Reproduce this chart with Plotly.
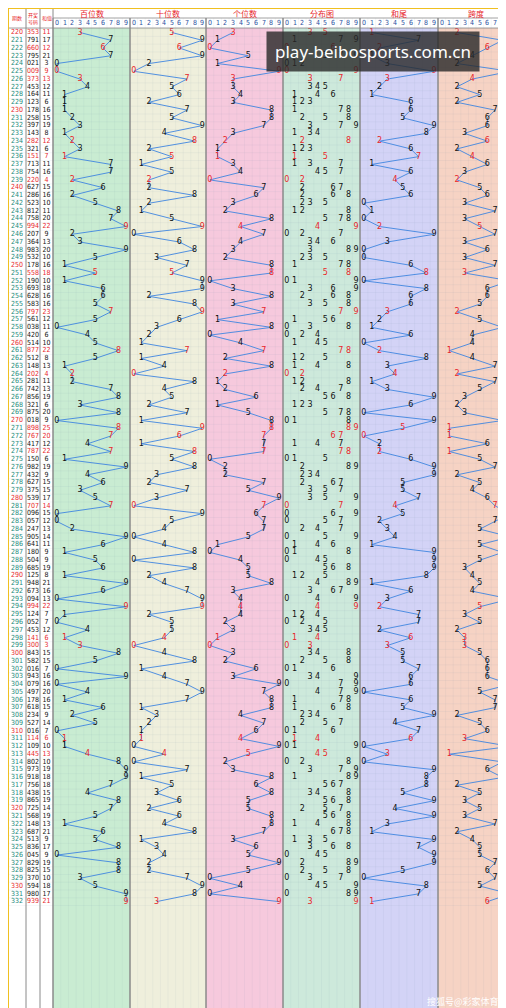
import plotly.graph_objects as go

# 期数 / 开奖号码
periods = list(range(220, 333))
draws = ["353", "791", "660", "795", "021", "009", "373", "453", "164", "123",
         "178", "258", "397", "143", "282", "321", "151", "713", "754", "220",
         "627", "286", "523", "812", "758", "994", "207", "364", "983", "532",
         "178", "558", "190", "693", "628", "583", "797", "561", "038", "420",
         "514", "877", "512", "148", "202", "281", "742", "856", "321", "875",
         "018", "898", "767", "417", "787", "150", "982", "432", "627", "375",
         "539", "707", "096", "057", "247", "905", "641", "180", "504", "685",
         "125", "948", "673", "094", "994", "124", "052", "453", "141", "300",
         "843", "582", "016", "943", "079", "497", "178", "618", "234", "527",
         "016", "114", "109", "445", "802", "973", "918", "756", "438", "865",
         "725", "568", "148", "687", "513", "836", "045", "829", "825", "370",
         "594", "980", "939"]
section_titles = ["百位数", "十位数", "个位数", "分布图", "和尾", "跨度"]
section_bg = ["#c9ecd2", "#efefdc", "#f6c9dd", "#cde9db", "#d3d3f6", "#f6d3c4"]

bounds = [45, 122, 198, 275, 352, 430, 506]
y0, rh = 24.5, 7.76
BLUE = "#3f86e0"
RED = "#e8262a"
GRID = "rgba(120,140,170,0.14)"

fig = go.Figure()
shapes = []

# 背景
shapes.append(dict(type="rect", x0=0, x1=45, y0=0, y1=1008, fillcolor="#ffffff", line_width=0, layer="below"))
for s in range(6):
    shapes.append(dict(type="rect", x0=bounds[s], x1=bounds[s + 1], y0=20, y1=1008,
                       fillcolor=section_bg[s], line_width=0, layer="below"))
shapes.append(dict(type="rect", x0=45, x1=506, y0=0, y1=20, fillcolor="#ffffff", line_width=0, layer="below"))

# 网格
n = len(draws)
for i in range(n + 1):
    yy = y0 - rh / 2 + i * rh
    shapes.append(dict(type="line", x0=0, x1=506, y0=yy, y1=yy, line=dict(color=GRID, width=0.5), layer="below"))
for s in range(6):
    w = (bounds[s + 1] - bounds[s]) / 10
    for c in range(11):
        xx = bounds[s] + c * w
        edge = c in (0, 10)
        shapes.append(dict(type="line", x0=xx, x1=xx, y0=10, y1=1008,
                           line=dict(color="#8a8a8a" if edge else GRID, width=1 if edge else 0.5),
                           layer="below"))
for xx in [18, 32, 45]:
    shapes.append(dict(type="line", x0=xx, x1=xx, y0=0, y1=1008, line=dict(color="#8a8a8a", width=1), layer="below"))
shapes.append(dict(type="line", x0=45, x1=506, y0=10, y1=10, line=dict(color="#8a8a8a", width=0.8)))
shapes.append(dict(type="line", x0=0, x1=506, y0=20, y1=20, line=dict(color="#8a8a8a", width=0.8)))
shapes.append(dict(type="rect", x0=0, x1=506, y0=0, y1=1006, line=dict(color="#f0c020", width=2), fillcolor="rgba(0,0,0,0)"))

rows_y = [y0 + i * rh for i in range(n)]
is_rep = [len(set(d)) < 3 for d in draws]
row_col = [RED if r else "#111111" for r in is_rep]

# 左侧表格
fig.add_trace(go.Scatter(x=[9] * n, y=rows_y, mode="text", text=[str(p) for p in periods],
                         textfont=dict(size=7, color=[RED if p % 10 == 0 else "#1b8a7a" for p in periods], family="DejaVu Sans Condensed")))
fig.add_trace(go.Scatter(x=[25] * n, y=rows_y, mode="text", text=draws,
                         textfont=dict(size=7, color=row_col, family="DejaVu Sans Condensed")))
sums = [sum(int(c) for c in d) for d in draws]
fig.add_trace(go.Scatter(x=[38.5] * n, y=rows_y, mode="text", text=[str(v) for v in sums],
                         textfont=dict(size=7, color=row_col, family="DejaVu Sans Condensed")))


def colx(s, v):
    w = (bounds[s + 1] - bounds[s]) / 10
    return bounds[s] + (v + 0.5) * w


series = [
    [int(d[0]) for d in draws],
    [int(d[1]) for d in draws],
    [int(d[2]) for d in draws],
    None,
    [v % 10 for v in sums],
    [max(int(c) for c in d) - min(int(c) for c in d) for d in draws],
]
for s, vals in enumerate(series):
    if vals is None:
        xs, ys, ts, cs = [], [], [], []
        for i, d in enumerate(draws):
            for v in sorted(set(int(c) for c in d)):
                xs.append(colx(s, v)); ys.append(rows_y[i]); ts.append(str(v)); cs.append(row_col[i])
        fig.add_trace(go.Scatter(x=xs, y=ys, mode="text", text=ts,
                                 textfont=dict(size=8, color=cs, family="DejaVu Sans")))
        continue
    xs = [colx(s, v) for v in vals]
    fig.add_trace(go.Scatter(x=xs, y=rows_y, mode="lines", line=dict(color=BLUE, width=0.9)))
    fig.add_trace(go.Scatter(x=xs, y=rows_y, mode="text", text=[str(v) for v in vals],
                             textfont=dict(size=8, color=row_col, family="DejaVu Sans")))

# 表头
for s in range(6):
    fig.add_annotation(x=(bounds[s] + bounds[s + 1]) / 2, y=5, text=section_titles[s], showarrow=False,
                       font=dict(size=8, color=RED, family="Noto Sans CJK SC"))
    for v in range(10):
        fig.add_annotation(x=colx(s, v), y=15, text=str(v), showarrow=False,
                           font=dict(size=7, color="#2a4fa0", family="DejaVu Sans Condensed"))
for xx, t in [(9, "期数"), (25, "开奖<br>号码"), (38.5, "和值")]:
    fig.add_annotation(x=xx, y=10, text=t, showarrow=False, font=dict(size=5, color=RED, family="Noto Sans CJK SC"))

fig.add_annotation(x=365, y=43, text="play-beibosports.com.cn", showarrow=False,
                   font=dict(size=17, color="#ffffff", family="Noto Sans"),
                   bgcolor="rgba(40,40,40,0.8)", borderpad=8)
fig.add_annotation(x=455, y=993, text="搜狐号@彩家体育", showarrow=False,
                   font=dict(size=9, color="#ffffff", family="Noto Sans CJK SC"))

fig.update_layout(width=506, height=1008, margin=dict(l=0, r=0, t=0, b=0), showlegend=False,
                  shapes=shapes, plot_bgcolor="#ffffff", paper_bgcolor="#ffffff",
                  xaxis=dict(range=[0, 506], visible=False, fixedrange=True),
                  yaxis=dict(range=[1008, 0], visible=False, fixedrange=True))
fig.write_html("out.html")
